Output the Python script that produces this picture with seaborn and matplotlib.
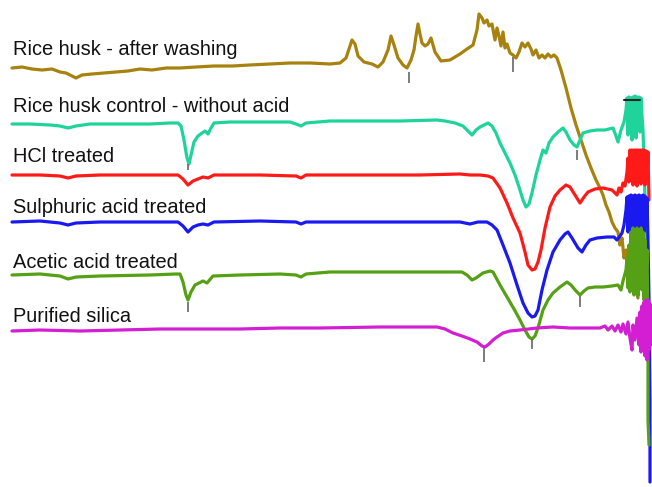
import matplotlib
matplotlib.use("Agg")
import matplotlib.pyplot as plt
import seaborn as sns
import pandas as pd

# Stacked spectra: (position, signal) pairs, signal grows downward on the plot
labels = [
    "Rice husk - after washing",
    "Rice husk control - without acid",
    "HCl treated",
    "Sulphuric acid treated",
    "Acetic acid treated",
    "Purified silica",
]

washed = [
    (12, 68), (22, 67), (32, 69), (42, 70), (52, 69), (60, 72), (66, 73), (72, 76), (76, 78),
    (82, 75), (92, 74), (104, 73), (116, 72), (128, 71), (140, 69), (152, 70), (166, 68),
    (180, 68), (196, 67), (214, 66), (232, 66), (250, 65), (270, 64), (290, 63), (310, 63),
    (330, 64), (340, 63), (346, 58), (350, 46), (352, 40), (355, 44), (358, 56), (364, 62),
    (372, 64), (378, 67), (383, 62), (388, 50), (391, 36), (394, 45), (398, 58), (403, 65),
    (407, 68), (411, 60), (414, 50), (416, 36), (418, 24), (420, 34), (422, 43), (425, 46),
    (428, 44), (431, 38), (435, 52), (441, 61), (450, 60), (460, 54), (467, 49), (473, 45),
    (477, 30), (479, 14), (482, 18), (484, 23), (487, 20), (489, 26), (492, 24), (495, 40),
    (497, 28), (499, 36), (501, 46), (503, 32), (505, 48), (507, 44), (510, 53), (513, 55),
    (516, 58), (519, 52), (522, 43), (525, 47), (528, 43), (531, 49), (533, 55), (536, 50),
    (539, 58), (542, 55), (545, 58), (548, 54), (551, 57), (554, 55), (557, 58), (561, 70),
    (566, 88), (571, 108), (576, 125), (581, 140), (586, 155), (591, 168), (596, 180),
    (600, 188), (603, 195), (606, 205), (609, 212), (612, 222), (615, 228), (618, 232),
    (620, 245), (622, 238), (624, 258), (626, 250), (628, 265), (630, 258), (632, 280),
    (634, 270), (636, 290), (638, 298),
]

control = [
    (12, 124), (30, 124), (50, 125), (60, 126), (68, 128), (76, 126), (90, 124), (120, 124),
    (150, 124), (170, 123), (178, 123), (181, 126), (184, 140), (187, 158), (189, 164),
    (191, 155), (194, 142), (198, 136), (202, 133), (205, 131), (208, 134), (211, 128),
    (214, 123), (230, 122), (260, 122), (290, 122), (296, 124), (301, 126), (306, 123),
    (330, 121), (360, 121), (400, 121), (437, 120), (445, 121), (455, 123), (463, 126),
    (467, 130), (472, 135), (476, 130), (480, 127), (488, 123), (492, 126), (496, 133),
    (500, 143), (505, 153), (510, 163), (515, 175), (519, 187), (523, 200), (526, 207),
    (529, 204), (532, 193), (536, 175), (540, 160), (543, 150), (546, 153), (549, 143),
    (553, 137), (558, 132), (563, 128), (566, 132), (570, 140), (574, 145), (577, 147),
    (580, 140), (583, 133), (590, 131), (597, 130), (605, 130), (613, 128), (616, 136),
    (618, 142), (621, 130), (624, 122), (626, 110), (627, 98), (628, 135), (629, 97),
    (630, 128), (631, 98), (632, 140), (633, 97), (634, 120), (635, 96), (636, 138),
    (637, 97), (638, 125), (639, 97), (640, 132), (641, 98), (642, 115), (643, 130),
    (644, 160), (645, 200), (646, 240),
]

hcl = [
    (12, 175), (40, 175), (60, 176), (68, 178), (76, 176), (100, 175), (150, 175), (178, 175),
    (183, 179), (188, 185), (193, 181), (198, 179), (203, 177), (208, 178), (214, 175),
    (260, 175), (296, 176), (301, 178), (306, 175), (330, 175), (380, 175), (420, 175),
    (460, 174), (470, 175), (480, 175), (488, 176), (493, 178), (500, 188), (507, 203),
    (513, 218), (520, 233), (525, 252), (528, 265), (532, 270), (535, 269), (538, 262),
    (541, 250), (545, 228), (550, 207), (555, 196), (560, 190), (566, 185), (570, 187),
    (575, 195), (580, 203), (584, 197), (588, 192), (595, 189), (603, 188), (612, 190),
    (617, 195), (619, 188), (621, 192), (623, 183), (625, 186), (627, 172), (628, 158),
    (629, 182), (630, 150), (631, 178), (632, 150), (633, 185), (634, 150), (635, 172),
    (636, 150), (637, 186), (638, 150), (639, 176), (640, 150), (641, 184), (642, 150),
    (643, 170), (644, 150), (645, 185), (646, 151), (647, 178), (648, 152), (649, 200),
]

sulphuric = [
    (12, 222), (40, 221), (60, 223), (68, 225), (76, 223), (100, 222), (150, 222), (178, 222),
    (183, 226), (188, 232), (193, 227), (198, 225), (203, 224), (208, 225), (214, 222),
    (260, 221), (296, 222), (301, 224), (306, 222), (330, 222), (400, 222), (460, 222),
    (470, 224), (478, 222), (487, 222), (492, 225), (497, 230), (503, 245), (510, 263),
    (517, 285), (523, 303), (528, 313), (532, 317), (535, 316), (538, 310), (542, 290),
    (547, 270), (553, 252), (560, 240), (565, 234), (568, 232), (572, 238), (578, 248),
    (582, 252), (586, 245), (590, 240), (597, 238), (607, 237), (614, 237), (617, 240),
    (620, 236), (622, 233), (624, 225), (626, 210), (627, 197), (628, 232), (629, 196),
    (630, 225), (631, 195), (632, 236), (633, 196), (634, 218), (635, 195), (636, 234),
    (637, 196), (638, 222), (639, 195), (640, 238), (641, 196), (642, 215), (643, 195),
    (644, 232), (645, 196), (646, 226), (647, 198), (648, 240), (649, 300), (650, 400),
    (650, 482),
]

acetic = [
    (12, 275), (40, 274), (60, 276), (68, 279), (76, 277), (100, 276), (150, 275), (176, 274),
    (180, 274), (183, 282), (186, 295), (188, 300), (191, 292), (195, 285), (199, 283),
    (203, 281), (207, 283), (213, 276), (240, 275), (280, 274), (296, 275), (301, 277),
    (306, 274), (330, 272), (400, 272), (440, 272), (462, 272), (467, 275), (472, 280),
    (476, 278), (483, 273), (490, 271), (493, 272), (500, 285), (507, 297), (514, 309),
    (520, 320), (525, 330), (529, 337), (532, 339), (535, 336), (538, 328), (543, 310),
    (548, 300), (553, 293), (560, 287), (567, 282), (571, 285), (576, 291), (580, 295),
    (584, 291), (588, 288), (595, 287), (603, 287), (612, 286), (618, 285), (621, 290),
    (623, 281), (626, 270), (627, 258), (628, 288), (629, 245), (630, 292), (631, 232),
    (632, 280), (633, 228), (634, 295), (635, 235), (636, 285), (637, 228), (638, 296),
    (639, 240), (640, 282), (641, 228), (642, 290), (643, 232), (644, 300), (645, 240),
    (646, 285), (647, 250), (648, 330), (648, 420), (649, 445),
]

silica = [
    (12, 331), (40, 330), (80, 331), (120, 330), (160, 329), (200, 329), (240, 329),
    (280, 328), (320, 328), (380, 327), (437, 327), (445, 329), (453, 333), (462, 336),
    (470, 339), (477, 342), (482, 346), (485, 347), (489, 344), (493, 340), (497, 337),
    (503, 333), (510, 331), (520, 330), (537, 328), (553, 327), (570, 328), (587, 328),
    (600, 328), (605, 326), (608, 330), (612, 326), (615, 331), (618, 325), (621, 332),
    (623, 324), (626, 334), (628, 322), (630, 338), (632, 350), (633, 325), (635, 340),
    (637, 318), (639, 345), (640, 312), (641, 352), (642, 306), (643, 348), (644, 302),
    (645, 356), (646, 300), (647, 360), (648, 300), (649, 350), (650, 304), (651, 345),
]

# Picked-peak markers: (position, top, bottom)
peak_marks = [
    (188, 164, 170), (188, 302, 312), (409, 72, 83), (513, 57, 72),
    (577, 150, 160), (580, 296, 307), (484, 348, 362), (532, 339, 349),
]

colors = ["#A8820F", "#1ED49A", "#FF1A1A", "#1A1AF0", "#56A015", "#D41ED4"]
label_baselines = [55, 112, 162, 213, 268, 322]

series = [washed, control, hcl, sulphuric, acetic, silica]
frames = []
for name, pts in zip(labels, series):
    df = pd.DataFrame(pts, columns=["position", "signal"])
    df["sample"] = name
    frames.append(df)
data = pd.concat(frames, ignore_index=True)

sns.set_theme(style="white")
plt.rcParams["font.family"] = ["Liberation Sans", "DejaVu Sans"]

fig = plt.figure(figsize=(6.52, 4.87), dpi=100)
ax = fig.add_axes([0, 0, 1, 1])

sns.lineplot(
    data=data, x="position", y="signal", hue="sample", hue_order=labels,
    palette=dict(zip(labels, colors)), estimator=None, sort=False,
    linewidth=2.3, legend=False, ax=ax,
)

for x, y0, y1 in peak_marks:
    ax.plot([x, x], [y0, y1], color="#666666", linewidth=1.2, solid_capstyle="butt")

# flat-top marker on the control spectrum
ax.plot([624, 640], [100, 100], color="#222222", linewidth=1.5)

for name, yb in zip(labels, label_baselines):
    ax.text(13, yb, name, fontsize=14.4, color="#111111", va="baseline", ha="left")

ax.set_xlim(0, 652)
ax.set_ylim(487, 0)
ax.axis("off")

fig.savefig("out.png", dpi=100, facecolor="white")
